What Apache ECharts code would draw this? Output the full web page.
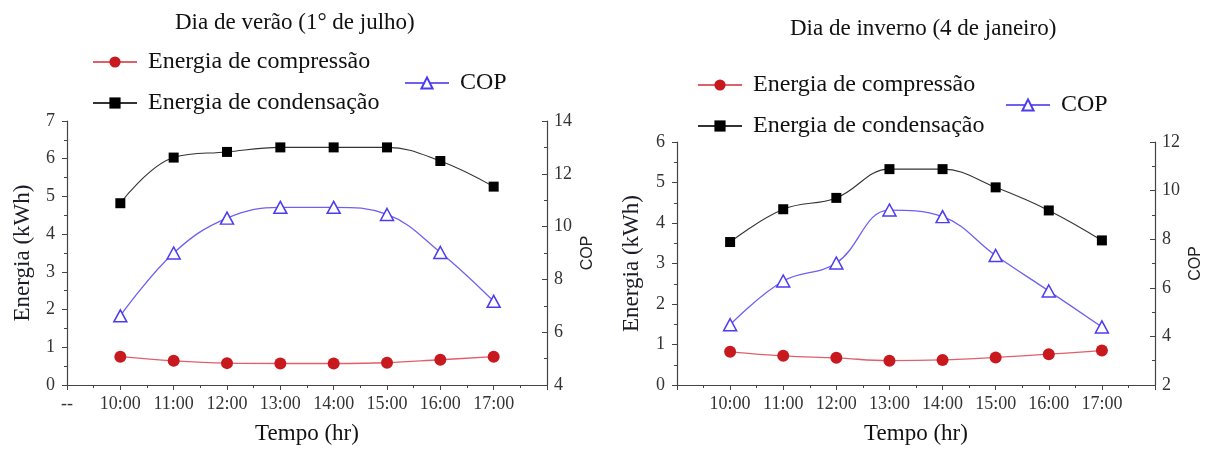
<!DOCTYPE html>
<html>
<head>
<meta charset="utf-8">
<script src="https://cdn.jsdelivr.net/npm/echarts@6/dist/echarts.min.js"></script>
<style>
html,body{margin:0;padding:0;background:#fff;}
#chart{width:1207px;height:450px;}
</style>
</head>
<body>
<div id="chart"></div>
<script>
// ---- data ----
const hours = ['10:00','11:00','12:00','13:00','14:00','15:00','16:00','17:00'];
const summerTickLabels = ['--','10:00','11:00','12:00','13:00','14:00','15:00','16:00','17:00',''];
const winterTickLabels = ['','10:00','11:00','12:00','13:00','14:00','15:00','16:00','17:00',''];

const summerCompressao  = [0.75, 0.64, 0.58, 0.57, 0.57, 0.59, 0.67, 0.75];
const summerCondensacao = [4.82, 6.03, 6.18, 6.30, 6.30, 6.30, 5.94, 5.26];
const summerCOP         = [6.62, 9.00, 10.32, 10.73, 10.73, 10.46, 9.02, 7.17];

const winterCompressao  = [0.82, 0.72, 0.67, 0.60, 0.62, 0.68, 0.76, 0.85];
const winterCondensacao = [3.53, 4.34, 4.62, 5.33, 5.33, 4.88, 4.31, 3.57];
const winterCOP         = [4.48, 6.28, 7.02, 9.20, 8.93, 7.33, 5.87, 4.39];

const titles = ['Dia de verão (1° de julho)', 'Dia de inverno (4 de janeiro)'];
const names = ['Energia de compressão', 'Energia de condensação', 'COP'];

// ---- helpers ----
const SERIF = 'Liberation Serif';
const SANS = 'Liberation Sans';
const toPts = (arr) => arr.map((v, i) => [i + 1, v]);

function xAxis(gridIndex, labels) {
  return {
    type: 'value', gridIndex, min: 0, max: 9, interval: 1,
    name: 'Tempo (hr)', nameLocation: 'middle', nameGap: 37,
    nameTextStyle: {fontFamily: SERIF, fontSize: 23, color: '#111'},
    axisLine: {lineStyle: {color: '#444', width: 1.2}},
    axisTick: {show: true, inside: false, length: 5, lineStyle: {color: '#444'}},
    minorTick: {show: true, splitNumber: 2, length: 3, lineStyle: {color: '#444'}},
    splitLine: {show: false},
    axisLabel: {formatter: (v) => labels[v] ?? '', fontFamily: SERIF, fontSize: 18, color: '#333', margin: 10, showMinLabel: true, showMaxLabel: true}
  };
}
function yLeft(gridIndex, max, gap) {
  return {
    type: 'value', gridIndex, min: 0, max, interval: 1, position: 'left',
    name: 'Energia (kWh)', nameLocation: 'middle', nameGap: gap, nameRotate: 90,
    nameTextStyle: {fontFamily: SERIF, fontSize: 23, color: '#1b1b2a'},
    axisLine: {show: true, lineStyle: {color: '#444', width: 1.2}},
    axisTick: {show: true, inside: false, length: 5, lineStyle: {color: '#444'}},
    minorTick: {show: true, splitNumber: 2, length: 3, lineStyle: {color: '#444'}},
    splitLine: {show: false},
    axisLabel: {fontFamily: SERIF, fontSize: 18, color: '#333', margin: 12}
  };
}
function yRight(gridIndex, min, max, gap) {
  return {
    type: 'value', gridIndex, min, max, interval: 2, position: 'right',
    name: 'COP', nameLocation: 'middle', nameGap: gap, nameRotate: 90,
    nameTextStyle: {fontFamily: SANS, fontSize: 16, color: '#222'},
    axisLine: {show: true, lineStyle: {color: '#444', width: 1.2}},
    axisTick: {show: true, inside: true, length: 5, lineStyle: {color: '#444'}},
    minorTick: {show: true, splitNumber: 2, length: 3, lineStyle: {color: '#444'}},
    splitLine: {show: false},
    axisLabel: {fontFamily: SERIF, fontSize: 18, color: '#333', margin: 7}
  };
}
function seriesSet(k, comp, cond, cop) {
  return [
    {
      name: names[0], type: 'line', xAxisIndex: k, yAxisIndex: 2*k, data: toPts(comp),
      smooth: 0.4, symbol: 'circle', symbolSize: 12,
      lineStyle: {color: '#e0606a', width: 1.3},
      itemStyle: {color: '#c8191e'}
    },
    {
      name: names[1], type: 'line', xAxisIndex: k, yAxisIndex: 2*k, data: toPts(cond),
      smooth: 0.4, symbol: 'rect', symbolSize: 10,
      lineStyle: {color: '#333', width: 1.1},
      itemStyle: {color: '#000'}
    },
    {
      name: names[2], type: 'line', xAxisIndex: k, yAxisIndex: 2*k+1, data: toPts(cop),
      smooth: 0.4, symbol: 'triangle', symbolSize: [13, 12],
      lineStyle: {color: '#6f60f2', width: 1.3},
      itemStyle: {color: '#fff', borderColor: '#4b3cf0', borderWidth: 1.5}
    }
  ];
}
function legend(name, left, top) {
  return {
    data: [name], left, top, padding: 0, itemWidth: 44, itemHeight: 14, orient: 'horizontal',
    textStyle: {fontFamily: SERIF, fontSize: 24, color: '#111', padding: [0,0,0,6]},
    selectedMode: false
  };
}

const chart = echarts.init(document.getElementById('chart'));
chart.setOption({
  animation: false,
  backgroundColor: '#fff',
  title: [
    {text: titles[0], left: 170, top: 6, textStyle: {fontFamily: SERIF, fontSize: 23, fontWeight: 'normal', color: '#111'}},
    {text: titles[1], left: 785, top: 12, textStyle: {fontFamily: SERIF, fontSize: 23, fontWeight: 'normal', color: '#111'}}
  ],
  legend: [
    legend(names[0], 92, 50),
    legend(names[1], 92, 91),
    legend(names[2], 404, 71),
    legend(names[0], 697, 73),
    legend(names[1], 697, 114),
    legend(names[2], 1005, 93)
  ],
  grid: [
    {left: 67, top: 121, width: 480, height: 265},
    {left: 677, top: 142, width: 478, height: 244}
  ],
  xAxis: [xAxis(0, summerTickLabels), xAxis(1, winterTickLabels)],
  yAxis: [yLeft(0, 7, 33), yRight(0, 4, 14, 33), yLeft(1, 6, 34), yRight(1, 2, 12, 33)],
  series: [
    ...seriesSet(0, summerCompressao, summerCondensacao, summerCOP),
    ...seriesSet(1, winterCompressao, winterCondensacao, winterCOP)
  ]
});
</script>
</body>
</html>
